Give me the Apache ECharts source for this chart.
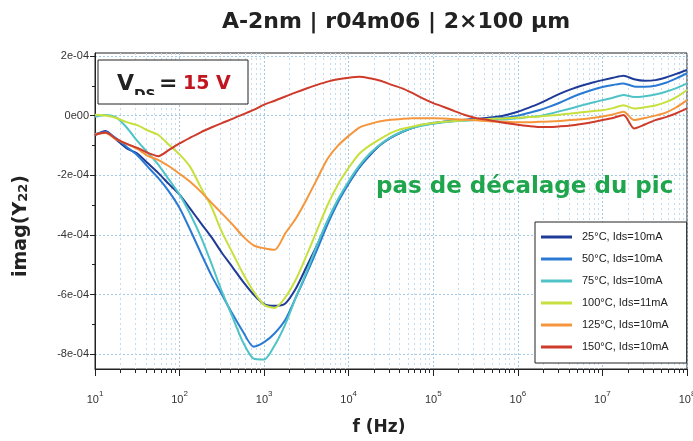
<!DOCTYPE html>
<html>
<head>
<meta charset="utf-8">
<script src="https://cdn.jsdelivr.net/npm/echarts@6/dist/echarts.min.js"></script>
<style>
  html, body { margin: 0; padding: 0; background: #fff; }
  #chart { width: 693px; height: 441px; }
</style>
</head>
<body>
<div id="chart"></div>
<script>
// frequency sweep (Hz), 8 points per decade
const freqHz = [
  10, 13.34, 17.78, 23.71, 31.62, 42.17, 56.23, 74.99,
  100, 133.4, 177.8, 237.1, 316.2, 421.7, 562.3, 749.9,
  1000, 1334, 1778, 2371, 3162, 4217, 5623, 7499,
  1e4, 1.334e4, 1.778e4, 2.371e4, 3.162e4, 4.217e4, 5.623e4, 7.499e4,
  1e5, 1.334e5, 1.778e5, 2.371e5, 3.162e5, 4.217e5, 5.623e5, 7.499e5,
  1e6, 1.334e6, 1.778e6, 2.371e6, 3.162e6, 4.217e6, 5.623e6, 7.499e6,
  1e7, 1.334e7, 1.778e7, 2.371e7, 3.162e7, 4.217e7, 5.623e7, 7.499e7,
  1e8
];

// imag(Y22) in units of 1e-4
const imag25 = [
  -0.65,-0.52,-0.80,-1.10,-1.27,-1.60,-1.93,-2.30,
  -2.65,-3.12,-3.60,-4.07,-4.60,-5.08,-5.57,-6.00,
  -6.32,-6.38,-6.30,-5.80,-5.08,-4.35,-3.55,-2.85,
  -2.27,-1.74,-1.33,-0.98,-0.74,-0.56,-0.42,-0.32,
  -0.26,-0.21,-0.17,-0.14,-0.11,-0.08,-0.04,0.03,
  0.13,0.26,0.40,0.57,0.74,0.88,1.00,1.10,
  1.19,1.27,1.34,1.22,1.17,1.19,1.28,1.40,
  1.53
];
const imag50 = [
  -0.62,-0.55,-0.76,-1.05,-1.33,-1.72,-2.10,-2.55,
  -3.10,-3.83,-4.60,-5.35,-6.00,-6.65,-7.25,-7.75,
  -7.60,-7.30,-6.85,-6.10,-5.32,-4.50,-3.65,-2.90,
  -2.28,-1.74,-1.31,-0.98,-0.73,-0.55,-0.41,-0.31,
  -0.25,-0.21,-0.18,-0.15,-0.13,-0.11,-0.08,-0.06,
  0.00,0.09,0.18,0.30,0.44,0.60,0.74,0.86,
  0.96,1.03,1.08,0.98,0.97,1.00,1.10,1.25,
  1.42
];
const imag75 = [
  -0.04,0.02,-0.06,-0.40,-0.85,-1.25,-1.65,-2.15,
  -2.65,-3.30,-4.05,-4.95,-5.90,-6.75,-7.60,-8.15,
  -8.18,-7.70,-7.00,-6.10,-5.25,-4.35,-3.52,-2.80,
  -2.20,-1.68,-1.27,-0.96,-0.72,-0.55,-0.42,-0.33,
  -0.27,-0.22,-0.19,-0.17,-0.15,-0.14,-0.13,-0.12,
  -0.09,-0.05,-0.02,0.06,0.15,0.24,0.34,0.43,
  0.52,0.60,0.69,0.62,0.65,0.71,0.80,0.92,
  1.08
];
const imag100 = [
  0.03,0.00,-0.08,-0.22,-0.32,-0.50,-0.65,-0.98,
  -1.30,-1.72,-2.40,-3.05,-3.90,-4.60,-5.30,-5.90,
  -6.35,-6.45,-6.10,-5.50,-4.70,-3.85,-3.00,-2.30,
  -1.75,-1.28,-1.00,-0.78,-0.58,-0.45,-0.37,-0.30,
  -0.25,-0.21,-0.18,-0.16,-0.14,-0.12,-0.10,-0.09,
  -0.07,-0.05,-0.03,0.00,0.03,0.07,0.11,0.15,
  0.18,0.25,0.35,0.24,0.28,0.34,0.45,0.62,
  0.86
];
const imag125 = [
  -0.62,-0.58,-0.80,-0.95,-1.12,-1.35,-1.49,-1.70,
  -1.95,-2.22,-2.55,-2.92,-3.28,-3.65,-4.05,-4.35,
  -4.45,-4.50,-3.95,-3.45,-2.82,-2.13,-1.45,-1.00,
  -0.68,-0.40,-0.28,-0.19,-0.14,-0.11,-0.09,-0.09,
  -0.09,-0.10,-0.12,-0.14,-0.16,-0.18,-0.20,-0.21,
  -0.22,-0.22,-0.21,-0.20,-0.18,-0.15,-0.12,-0.08,
  -0.03,0.04,0.13,-0.15,-0.08,0.00,0.10,0.28,
  0.52
];
const imag150 = [
  -0.65,-0.57,-0.78,-0.95,-1.08,-1.25,-1.36,-1.15,
  -0.93,-0.74,-0.56,-0.40,-0.25,-0.11,0.04,0.19,
  0.37,0.50,0.64,0.78,0.91,1.03,1.14,1.22,
  1.27,1.30,1.25,1.17,1.04,0.92,0.76,0.58,
  0.42,0.29,0.15,0.02,-0.08,-0.13,-0.20,-0.26,
  -0.31,-0.35,-0.38,-0.38,-0.36,-0.33,-0.28,-0.22,
  -0.15,-0.08,0.02,-0.43,-0.30,-0.15,-0.05,0.08,
  0.24
];

const seriesNames = ['25°C, Ids=10mA', '50°C, Ids=10mA', '75°C, Ids=10mA',
  '100°C, Ids=11mA', '125°C, Ids=10mA', '150°C, Ids=10mA'];
const seriesColors = ['#1f3b98', '#2a7ad4', '#4fc3c6', '#c8e03e', '#f5963c', '#cf3b2a'];
const curves = [imag25, imag50, imag75, imag100, imag125, imag150];

const yMajorTicks = [-8, -6, -4, -2, 0, 2];
const yMinorTicks = [-7, -5, -3, -1, 1];
let xMinorTicks = [];
for (let d = 10; d < 1e8; d *= 10) {
  for (let k = 2; k <= 9; k++) xMinorTicks.push(k * d);
}

const gridBlue = '#a3c9e6';
const axisColor = '#222';

const chart = echarts.init(document.getElementById('chart'));

const option = {
  animation: false,
  backgroundColor: '#fff',
  grid: {
    left: 95, top: 53, width: 592, height: 316,
    show: true, borderColor: axisColor, borderWidth: 1, backgroundColor: '#fff',
    outerBoundsMode: 'none'
  },
  legend: {
    orient: 'vertical',
    left: 535, top: 222,
    data: seriesNames,
    icon: 'rect',
    itemWidth: 31, itemHeight: 3, itemGap: 10,
    padding: [9, 18, 10, 6],
    backgroundColor: '#fff',
    borderColor: axisColor, borderWidth: 1,
    textStyle: { fontFamily: 'Liberation Sans', fontSize: 11, lineHeight: 12, color: '#222', padding: [0, 0, 0, 5] }
  },
  xAxis: [
    {
      type: 'log', logBase: 10, min: 10, max: 1e8,
      axisLine: { show: true, onZero: false, lineStyle: { color: axisColor } },
      axisTick: { show: true, length: 7, lineStyle: { color: axisColor } },
      axisLabel: {
        margin: 21,
        formatter: v => '{b|10}{s|' + Math.round(Math.log10(v)) + '}',
        rich: {
          b: { fontFamily: 'Liberation Sans', fontSize: 11, color: '#333', verticalAlign: 'bottom' },
          s: { fontFamily: 'Liberation Sans', fontSize: 8, color: '#333', verticalAlign: 'bottom', padding: [0, 0, 7, 0] }
        }
      },
      splitLine: { show: true, lineStyle: { color: gridBlue, type: [2, 2] } }
    },
    {
      type: 'log', logBase: 10, min: 10, max: 1e8, position: 'bottom',
      axisLine: { show: false, onZero: false },
      axisTick: { show: true, length: 4, customValues: xMinorTicks, lineStyle: { color: axisColor } },
      axisLabel: { show: false },
      splitLine: { show: true, lineStyle: { color: '#c3dcef', type: [2, 3] } }
    }
  ],
  yAxis: [
    {
      type: 'value', min: -8.5, max: 2.1,
      axisLine: { show: true, onZero: false, lineStyle: { color: axisColor } },
      axisTick: { show: true, length: 5, customValues: yMajorTicks, lineStyle: { color: axisColor } },
      axisLabel: {
        customValues: yMajorTicks, margin: 6,
        fontFamily: 'Liberation Sans', fontSize: 11, color: '#333',
        formatter: v => v === 0 ? '0e00' : (v < 0 ? '-' : '') + Math.abs(v) + 'e-04'
      },
      splitLine: { show: true, lineStyle: { color: gridBlue, type: [2, 2] } }
    },
    {
      type: 'value', min: -8.5, max: 2.1, position: 'left',
      axisLine: { show: false, onZero: false },
      axisTick: { show: true, length: 3, customValues: yMinorTicks, lineStyle: { color: axisColor } },
      axisLabel: { show: false },
      splitLine: { show: false }
    }
  ],
  series: seriesNames.map((name, i) => ({
    name: name,
    type: 'line',
    xAxisIndex: 0,
    yAxisIndex: 0,
    data: freqHz.map((f, j) => [f, curves[i][j]]),
    showSymbol: false,
    symbol: 'none',
    smooth: 0.25,
    lineStyle: { width: 2, color: seriesColors[i] },
    itemStyle: { color: seriesColors[i] },
    z: 3 + i
  })),
  graphic: [
    {
      type: 'text', x: 396, y: 22,
      style: { text: 'A-2nm | r04m06 | 2×100 µm', font: 'bold 22px "DejaVu Sans"', fill: '#222', align: 'center', verticalAlign: 'middle' }
    },
    {
      type: 'text', x: 379, y: 428,
      style: { text: 'f (Hz)', font: 'bold 17px "DejaVu Sans"', fill: '#222', align: 'center', verticalAlign: 'middle' }
    },
    {
      type: 'text', x: 21, y: 226, rotation: Math.PI / 2,
      style: {
        text: '{a|imag(Y}{s|22}{a|)}',
        align: 'center', verticalAlign: 'middle',
        rich: {
          a: { fontFamily: 'DejaVu Sans', fontWeight: 'bold', fontSize: 19, fill: '#222', verticalAlign: 'bottom' },
          s: { fontFamily: 'DejaVu Sans', fontWeight: 'bold', fontSize: 13, fill: '#222', verticalAlign: 'bottom', padding: [5, 0, 0, 0] }
        }
      }
    },
    {
      type: 'rect', z: 20,
      shape: { x: 98, y: 60, width: 150, height: 44 },
      style: { fill: '#fff', stroke: '#222', lineWidth: 1 }
    },
    {
      type: 'text', z: 21, x: 117, y: 84,
      style: { text: 'V', font: 'bold 22px "DejaVu Sans"', fill: '#222', verticalAlign: 'middle' }
    },
    {
      type: 'text', z: 21, x: 134, y: 88,
      style: { text: 'DS', font: 'bold 14px "DejaVu Sans"', fill: '#222', verticalAlign: 'top' }
    },
    {
      type: 'rect', z: 22,
      shape: { x: 132, y: 95, width: 24, height: 8 },
      style: { fill: '#fff' }
    },
    {
      type: 'text', z: 21, x: 159, y: 84,
      style: { text: '=', font: 'bold 22px "DejaVu Sans"', fill: '#222', verticalAlign: 'middle' }
    },
    {
      type: 'text', z: 21, x: 183, y: 84,
      style: { text: '15 V', font: 'bold 19px "DejaVu Sans"', fill: '#c0161f', verticalAlign: 'middle' }
    },
    {
      type: 'text', z: 21, x: 376, y: 187,
      style: { text: 'pas de décalage du pic', font: 'bold 23px "DejaVu Sans"', fill: '#1fa64c', verticalAlign: 'middle' }
    }
  ]
};

chart.setOption(option);
</script>
</body>
</html>
